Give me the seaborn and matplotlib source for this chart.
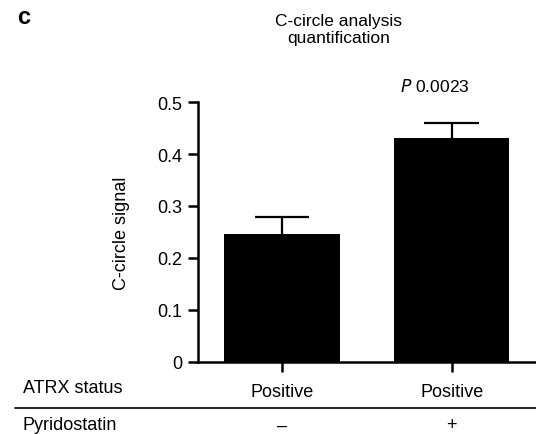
import matplotlib
matplotlib.use("Agg")
import matplotlib.pyplot as plt
import matplotlib.transforms as mtransforms
from matplotlib.lines import Line2D
import numpy as np
import pandas as pd
import seaborn as sns

# ------------------------------
# Data
# ------------------------------
pyridostatin = ["\u2013", "+"]
atrx_status = ["Positive", "Positive"]
signal_mean = [0.246, 0.431]
signal_sem = [0.033, 0.028]
y_ticks = [0, 0.1, 0.2, 0.3, 0.4, 0.5]
y_tick_labels = ["0", "0.1", "0.2", "0.3", "0.4", "0.5"]
p_value = "0.0023"

df = pd.DataFrame({"pyridostatin": pyridostatin,
                   "atrx": atrx_status,
                   "signal": signal_mean,
                   "sem": signal_sem})

# ------------------------------
# Style
# ------------------------------
sns.set_style("ticks")
plt.rcParams["font.family"] = ["Liberation Sans", "DejaVu Sans"]
plt.rcParams["font.size"] = 13
plt.rcParams["text.color"] = "black"
plt.rcParams["axes.labelcolor"] = "black"
plt.rcParams["xtick.color"] = "black"
plt.rcParams["ytick.color"] = "black"
plt.rcParams["axes.edgecolor"] = "black"

fig = plt.figure(figsize=(5.36, 4.35), dpi=100)
ax = fig.add_axes([0.369, 0.166, 0.629, 0.597])

sns.barplot(data=df, x="pyridostatin", y="signal", order=pyridostatin,
            color="black", saturation=1, width=0.68, errorbar=None,
            linewidth=0, ax=ax)

# upper-only error bars (SEM), cap only at the top
xpos = np.arange(len(df))
tops = df["signal"] + df["sem"]
ax.vlines(xpos, df["signal"], tops, color="black", linewidth=1.6,
          clip_on=False, zorder=3)
ax.hlines(tops, xpos - 0.16, xpos + 0.16, color="black", linewidth=1.6,
          clip_on=False, zorder=3)

ax.set_xlim(-0.494, 1.49)
ax.set_ylim(0, 0.5)
ax.set_yticks(y_ticks)
ax.set_yticklabels(y_tick_labels, fontsize=13)
ax.set_xticks(xpos)
ax.set_xticklabels(df["atrx"], fontsize=13)
ax.set_xlabel("")
ax.set_ylabel("C-circle signal", fontsize=13, labelpad=20)

sns.despine(ax=ax)
for side in ["left", "bottom"]:
    ax.spines[side].set_linewidth(1.8)
ax.tick_params(axis="both", direction="out", length=7, width=1.8,
               color="black", pad=4)
ax.tick_params(axis="x", pad=8)

# titles and annotations
fig.text(0.044, 0.960, "c", fontsize=17, fontweight="bold",
         ha="center", va="center")
fig.text(0.631, 0.931, "C-circle analysis\nquantification", fontsize=12.5,
         ha="center", va="center", linespacing=1.2)
fig.text(0.811, 0.802, "$\\it{P}$ " + p_value, fontsize=12.5,
         ha="center", va="center")

# lower annotation table
fig.text(0.042, 0.108, "ATRX status", fontsize=13, va="center")
fig.add_artist(Line2D([0.028, 1.0], [0.060, 0.060], color="black",
                      linewidth=1.2, transform=fig.transFigure))
fig.text(0.042, 0.021, "Pyridostatin", fontsize=13, va="center")
blend = mtransforms.blended_transform_factory(ax.transData, fig.transFigure)
for i, lab in enumerate(df["pyridostatin"]):
    ax.text(i, 0.021, lab, fontsize=13, ha="center", va="center",
            transform=blend, clip_on=False)

fig.savefig("out.png", dpi=100)
plt.close(fig)
